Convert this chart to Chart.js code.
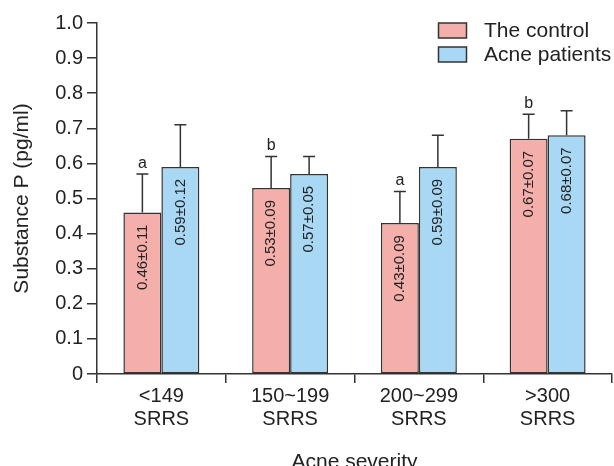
<!DOCTYPE html>
<html>
<head>
<meta charset="utf-8">
<script src="https://cdn.jsdelivr.net/npm/chart.js@4"></script>
<style>
  body { margin: 0; background: #fff; }
  #wrap { width: 614px; height: 466px; }
</style>
</head>
<body>
<div id="wrap"><canvas id="grafico" width="614" height="466"></canvas></div>
<script>
// datos
const categorias = [["<149", "SRRS"], ["150~199", "SRRS"], ["200~299", "SRRS"], [">300", "SRRS"]];
const control = [0.46, 0.53, 0.43, 0.67];
const controlSD = [0.11, 0.09, 0.09, 0.07];
const acne = [0.59, 0.57, 0.59, 0.68];
const acneSD = [0.12, 0.05, 0.09, 0.07];
const letras = ["a", "b", "a", "b"];
const yTicks = [0, 0.1, 0.2, 0.3, 0.4, 0.5, 0.6, 0.7, 0.8, 0.9, 1.0];

const fuente = "'Liberation Sans', Arial, sans-serif";
const gris = "#333";

// barras de error (solo hacia arriba), texto rotado y letras
const extras = {
  id: "extras",
  afterDatasetsDraw(chart) {
    const ctx = chart.ctx;
    const y = chart.scales.y;
    chart.data.datasets.forEach((ds, di) => {
      const meta = chart.getDatasetMeta(di);
      meta.data.forEach((bar, i) => {
        const top = y.getPixelForValue(ds.data[i] + ds.sd[i]);
        ctx.save();
        ctx.strokeStyle = gris;
        ctx.lineWidth = 1.5;
        ctx.beginPath();
        ctx.moveTo(bar.x, bar.y);
        ctx.lineTo(bar.x, top);
        ctx.moveTo(bar.x - 6, top);
        ctx.lineTo(bar.x + 6, top);
        ctx.stroke();

        // valor dentro de la barra
        ctx.fillStyle = "#222";
        ctx.font = "15px " + fuente;
        ctx.translate(bar.x, bar.y + 12);
        ctx.rotate(-Math.PI / 2);
        ctx.textAlign = "right";
        ctx.textBaseline = "middle";
        ctx.fillText(ds.data[i].toFixed(2) + "±" + ds.sd[i].toFixed(2), 0, 0);
        ctx.restore();

        if (ds.letras) {
          ctx.save();
          ctx.fillStyle = "#222";
          ctx.font = "16px " + fuente;
          ctx.textAlign = "center";
          ctx.textBaseline = "alphabetic";
          ctx.fillText(ds.letras[i], bar.x, top - 6);
          ctx.restore();
        }
      });
    });
  }
};

// leyenda arriba a la derecha
const leyenda = {
  id: "leyenda",
  afterDraw(chart) {
    const ctx = chart.ctx;
    chart.data.datasets.forEach((ds, i) => {
      const yy = 23 + i * 24;
      ctx.save();
      ctx.fillStyle = ds.backgroundColor;
      ctx.strokeStyle = gris;
      ctx.lineWidth = 1.5;
      ctx.fillRect(438.5, yy, 28, 15);
      ctx.strokeRect(438.5, yy, 28, 15);
      ctx.fillStyle = "#222";
      ctx.font = "21px " + fuente;
      ctx.textAlign = "left";
      ctx.textBaseline = "middle";
      ctx.fillText(ds.label, 484, yy + 8);
      ctx.restore();
    });
  }
};

new Chart(document.getElementById("grafico"), {
  type: "bar",
  data: {
    labels: categorias,
    datasets: [
      {
        label: "The control",
        data: control,
        sd: controlSD,
        letras: letras,
        backgroundColor: "#F4AFAB",
        borderColor: gris,
        borderWidth: 1.5,
        borderSkipped: false
      },
      {
        label: "Acne patients",
        data: acne,
        sd: acneSD,
        backgroundColor: "#A8D8F4",
        borderColor: gris,
        borderWidth: 1.5,
        borderSkipped: false
      }
    ]
  },
  options: {
    responsive: false,
    animation: false,
    devicePixelRatio: 1,
    layout: { padding: { top: 23, right: 2, left: 0, bottom: 0 } },
    datasets: { bar: { categoryPercentage: 0.59, barPercentage: 1 } },
    plugins: {
      legend: { display: false },
      tooltip: { enabled: false }
    },
    scales: {
      x: {
        afterFit(s) { s.height = 92; },
        grid: {
          offset: true,
          drawOnChartArea: false,
          drawTicks: true,
          tickLength: 9,
          color: gris,
          lineWidth: 1.5
        },
        border: { color: gris, width: 1.5 },
        ticks: {
          color: "#222",
          padding: 2,
          font: { family: fuente, size: 20, lineHeight: 1.15 }
        },
        title: {
          display: true,
          text: "Acne severity",
          color: "#222",
          padding: { top: 0, bottom: -7 },
          font: { family: fuente, size: 21, lineHeight: 1 }
        }
      },
      y: {
        min: 0,
        max: 1,
        afterFit(s) { s.width = 97; },
        afterBuildTicks(s) { s.ticks = yTicks.map(v => ({ value: v })); },
        grid: {
          drawOnChartArea: false,
          drawTicks: true,
          tickLength: 10,
          color: gris,
          lineWidth: 1.5
        },
        border: { color: gris, width: 1.5 },
        ticks: {
          color: "#222",
          padding: 4,
          font: { family: fuente, size: 20 },
          callback: v => (v === 0 ? "0" : v.toFixed(1))
        },
        title: {
          display: true,
          text: "Substance P (pg/ml)",
          color: "#222",
          padding: { top: 10, bottom: 0 },
          font: { family: fuente, size: 21 }
        }
      }
    }
  },
  plugins: [extras, leyenda]
});
</script>
</body>
</html>
